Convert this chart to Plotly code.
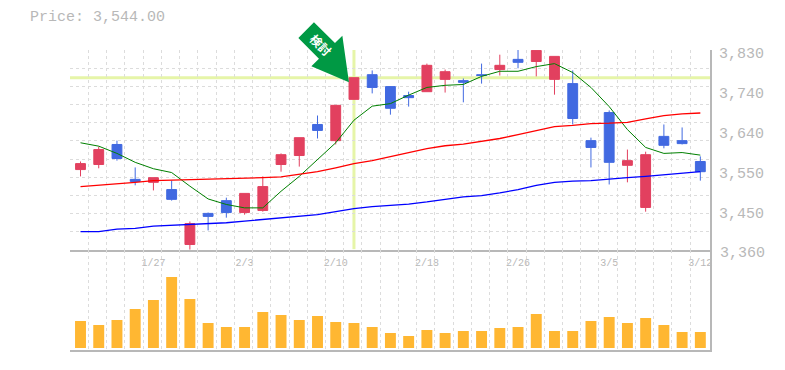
import plotly.graph_objects as go

LAST_PRICE = "Price: 3,544.00"
index = list(range(35))
tick_index = [4, 9, 14, 19, 24, 29, 34]
tick_labels = ["1/27", "2/3", "2/10", "2/18", "2/26", "3/5", "3/12"]
price_label_values = [3823, 3730, 3636, 3542, 3448]
price_labels = ["3,830", "3,740", "3,640", "3,550", "3,450"]
bottom_price_label = "3,360"

opens = [3549,3561,3608,3526,3519,3502,3373,3446,3476,3448,3453,3561,3582,3655,3617,3714,3772,3744,3723,3732,
         3761,3758,3772,3784,3808,3803,3761,3751,3617,3683,3559,3460,3627,3617,3568]
highs = [3568,3603,3617,3554,3530,3523,3427,3448,3483,3493,3533,3587,3624,3676,3700,3765,3782,3744,3732,3798,
         3784,3763,3798,3819,3831,3829,3815,3782,3624,3688,3596,3591,3655,3648,3580]
lows = [3533,3552,3570,3512,3500,3476,3361,3406,3436,3443,3450,3544,3556,3622,3608,3714,3728,3678,3697,3732,
        3730,3707,3751,3770,3787,3768,3725,3655,3554,3514,3519,3450,3599,3608,3523]
closes = [3563,3596,3575,3521,3530,3479,3422,3439,3448,3493,3509,3584,3624,3641,3700,3765,3742,3693,3718,3794,
          3779,3754,3770,3794,3801,3829,3815,3669,3601,3566,3570,3584,3606,3610,3544]
ma_short = [3612,3604,3587,3566,3551,3542,3510,3480,3467,3459,3459,3498,3533,3573,3612,3665,3698,3704,3724,3742,
            3747,3749,3768,3780,3780,3791,3798,3777,3742,3697,3643,3601,3587,3589,3583]
ma_mid = [3509,3512,3516,3519,3523,3524,3525,3526,3527,3529,3530,3532,3538,3544,3553,3563,3570,3580,3589,3598,
          3605,3609,3616,3622,3631,3640,3650,3653,3657,3658,3660,3668,3676,3680,3682]
ma_long = [3403,3403,3409,3411,3416,3418,3419,3422,3424,3428,3432,3435,3439,3443,3450,3457,3462,3465,3468,3473,
           3479,3485,3488,3494,3502,3512,3519,3522,3523,3527,3530,3533,3537,3540,3544]
volume = [27,23,28,39,48,71,49,25,21,21,36,33,28,32,26,25,21,15,12,18,15,17,17,20,21,34,17,17,27,31,25,30,23,16,16]
price_grid = [3360 + i * 470 / 11 for i in range(12)]
time_grid = [i - 0.56 for i in index]

UP, DOWN = "#e2405f", "#4169e1"
GRAY, GRID, CROSS = "#b8b8b8", "#dcdcdc", "#e6f5a8"
FONT = "Liberation Mono"

fig = go.Figure()
fig.add_trace(go.Candlestick(
    x=index, open=opens, high=highs, low=lows, close=closes, xaxis="x", yaxis="y",
    increasing=dict(line=dict(color=UP, width=1), fillcolor=UP),
    decreasing=dict(line=dict(color=DOWN, width=1), fillcolor=DOWN),
    showlegend=False, hoverinfo="skip"))
for vals, col, w in [(ma_short, "#008000", 1), (ma_mid, "#ff0000", 1.3), (ma_long, "#0000ff", 1.3)]:
    fig.add_trace(go.Scatter(x=index, y=vals, mode="lines", line=dict(color=col, width=w),
                             xaxis="x", yaxis="y", showlegend=False, hoverinfo="skip"))
fig.add_trace(go.Bar(x=index, y=volume, width=0.6, marker=dict(color="#ffb732", line_width=0),
                     xaxis="x2", yaxis="y2", showlegend=False, hoverinfo="skip"))

xcommon = dict(range=[-0.576, 34.53], showgrid=False, zeroline=False, showline=True, linecolor=GRAY, linewidth=2,
               minor=dict(tickvals=time_grid, showgrid=True, gridcolor=GRID, griddash="3px,3px", gridwidth=1, ticklen=0))
fig.update_layout(
    width=777, height=362, margin=dict(l=62, r=75, t=42, b=20, autoexpand=False),
    paper_bgcolor="white", plot_bgcolor="white", bargap=0.4, boxgap=0.46, boxgroupgap=0,
    xaxis=dict(domain=[0, 1], anchor="y", tickmode="array", tickvals=tick_index, ticktext=tick_labels,
               ticks="", ticklabelstandoff=2, tickfont=dict(family=FONT, size=10, color=GRAY),
               rangeslider=dict(visible=False), **xcommon),
    xaxis2=dict(domain=[0, 1], anchor="y2", showticklabels=False, ticks="", **xcommon),
    yaxis=dict(domain=[1 / 3, 1], anchor="x", side="right", range=[3360, 3830], tickmode="array",
               tickvals=price_label_values, ticktext=price_labels, ticks="", showgrid=False, zeroline=False,
               showline=True, linecolor=GRAY, linewidth=2, ticklabelstandoff=4,
               tickfont=dict(family=FONT, size=15, color=GRAY),
               minor=dict(tickvals=price_grid, showgrid=True, gridcolor=GRID, griddash="3px,3px", gridwidth=1, ticklen=0)),
    yaxis2=dict(domain=[0, 1 / 3], anchor="x2", side="right", range=[-2, 98], showticklabels=False, ticks="",
                showgrid=False, zeroline=False, showline=True, linecolor=GRAY, linewidth=2),
    annotations=[
        dict(text=LAST_PRICE, xref="paper", yref="paper", x=-42 / 640, y=1 + 32 / 300, xanchor="left", yanchor="middle",
             showarrow=False, font=dict(family=FONT, size=15, color=GRAY)),
        dict(text=bottom_price_label, xref="paper", yref="paper", x=1, y=97 / 300, xanchor="left", yanchor="middle",
             xshift=8, showarrow=False, font=dict(family=FONT, size=15, color=GRAY)),
        dict(text="<b>検討</b>", xref="x", yref="y", x=15, y=3765, xanchor="center", yanchor="middle",
             xshift=-33, yshift=33, textangle=45, showarrow=False,
             font=dict(family="Noto Sans CJK JP", size=12, color="white")),
    ],
    shapes=[
        dict(type="line", xref="x", yref="y", x0=-0.576, x1=34.53, y0=3765, y1=3765,
             line=dict(color=CROSS, width=3), layer="below"),
        dict(type="line", xref="x", yref="y", x0=15, x1=15, y0=3362, y1=3830,
             line=dict(color=CROSS, width=3), layer="below"),
        dict(type="path", xref="paper", yref="paper", xsizemode="pixel", ysizemode="pixel",
             xanchor=(15 + 0.576) / 35.106, yanchor=(3765 - 3360) / 470 * 2 / 3 + 1 / 3,
             path="M -5 -4.7 L -11.6 42 L -19 34.7 L -40 55.3 L -55.6 39.7 L -35 19 L -42.6 11.3 Z",
             fillcolor="#009944", line=dict(width=0), layer="above"),
    ],
)
fig.write_html("out.html")
